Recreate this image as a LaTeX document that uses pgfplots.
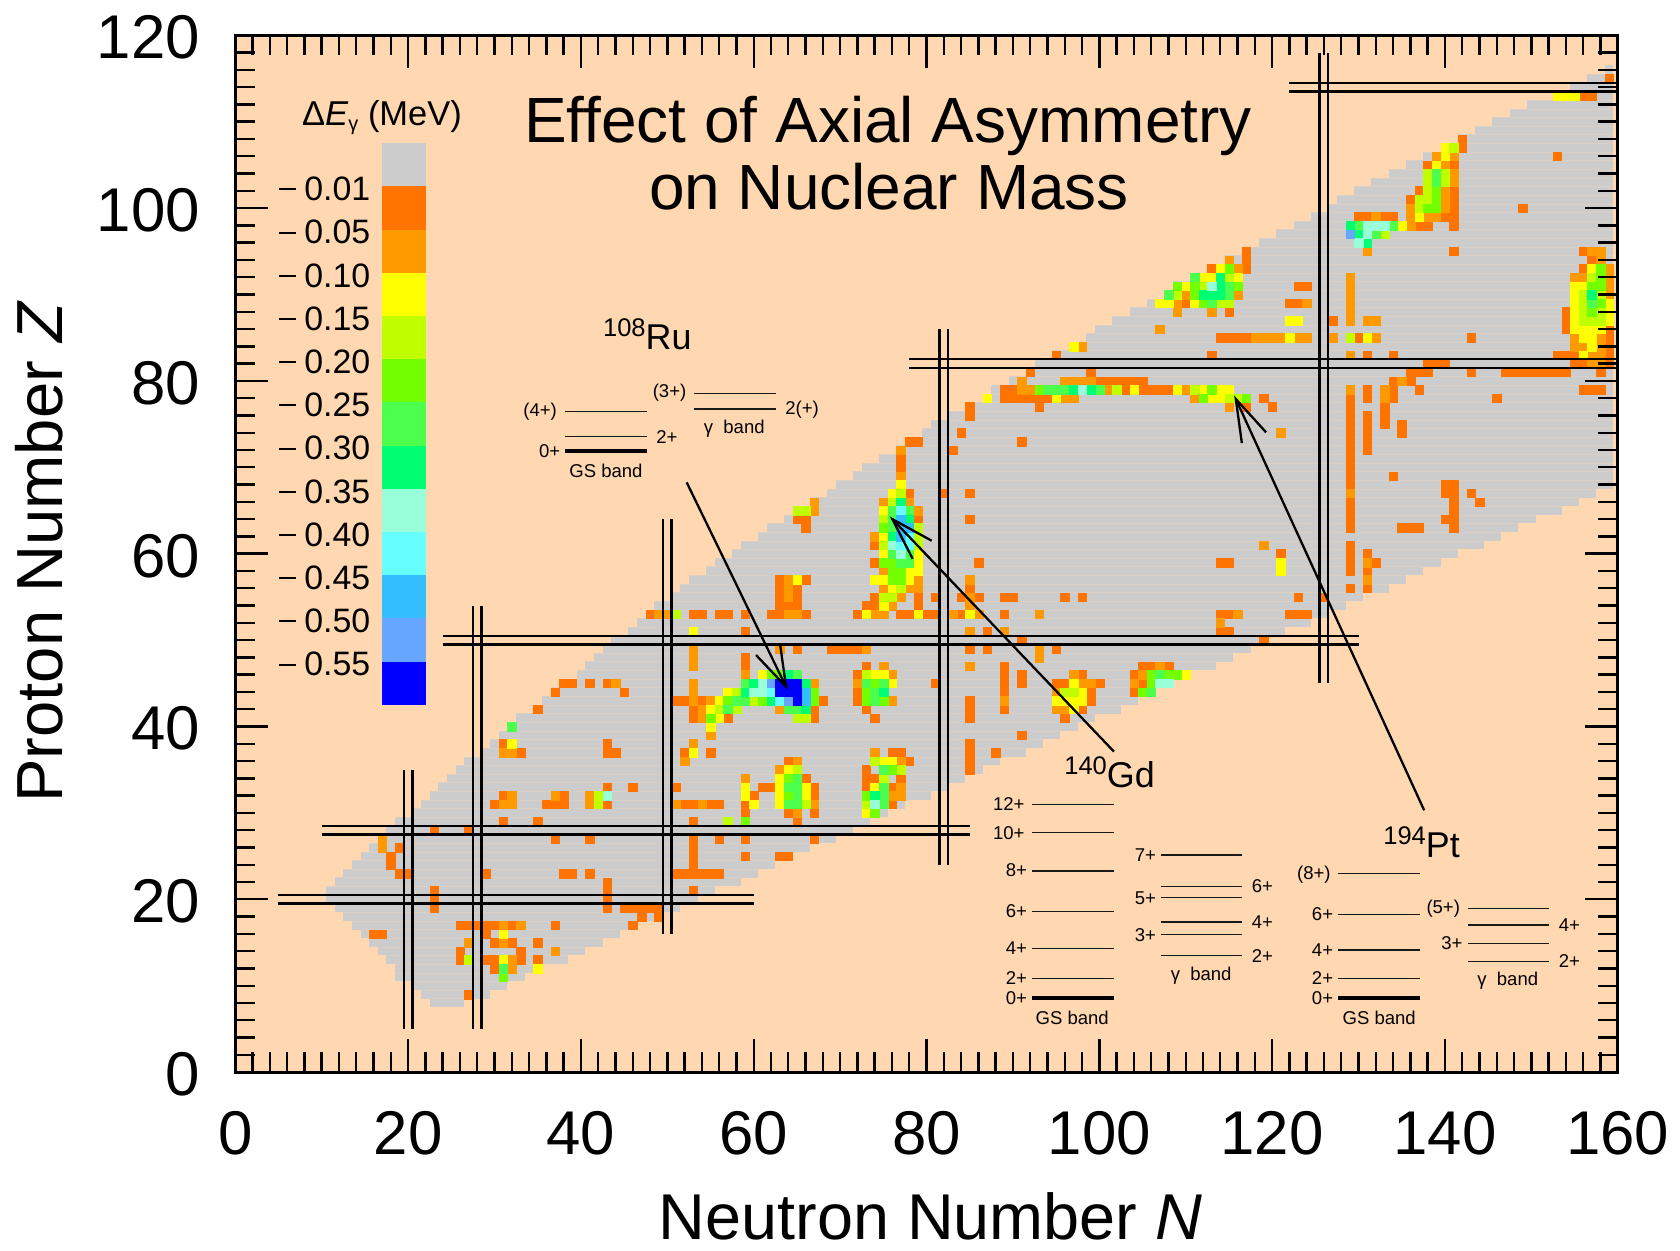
\documentclass[border=0pt]{standalone}
\usepackage{fontspec}
\setmainfont{Liberation Sans}
\usepackage{pgfplots}
\usepackage{pgfplotstable}
\pgfplotsset{compat=1.18}
\definecolor{peach}{HTML}{FFD7B0}
\definecolor{cg}{HTML}{CCCCCC}
\definecolor{ca}{HTML}{FF7300}
\definecolor{cb}{HTML}{FF9900}
\definecolor{cc}{HTML}{FFFF00}
\definecolor{cd}{HTML}{C0FF00}
\definecolor{ce}{HTML}{73FF00}
\definecolor{cf}{HTML}{4DFF4D}
\definecolor{ch}{HTML}{00FF73}
\definecolor{ci}{HTML}{99FFD9}
\definecolor{cj}{HTML}{66FFFF}
\definecolor{ck}{HTML}{33BFFF}
\definecolor{cl}{HTML}{66A6FF}
\definecolor{cm}{HTML}{0000FF}
\pgfplotstableread{
x y
22.5 8
26.5 8
nan nan
21.5 9
29.5 9
nan nan
20.5 10
31.5 10
nan nan
18.5 11
33.5 11
nan nan
18.5 12
35.5 12
nan nan
17.5 13
38.5 13
nan nan
16.5 14
40.5 14
nan nan
15.5 15
42.5 15
nan nan
14.5 16
44.5 16
nan nan
13.5 17
46.5 17
nan nan
12.5 18
49.5 18
nan nan
11.5 19
51.5 19
nan nan
10.5 20
53.5 20
nan nan
10.5 21
55.5 21
nan nan
11.5 22
58.5 22
nan nan
12.5 23
60.5 23
nan nan
13.5 24
62.5 24
nan nan
14.5 25
64.5 25
nan nan
15.5 26
66.5 26
nan nan
16.5 27
69.5 27
nan nan
17.5 28
71.5 28
nan nan
18.5 29
73.5 29
nan nan
20.5 30
75.5 30
nan nan
21.5 31
77.5 31
nan nan
22.5 32
80.5 32
nan nan
23.5 33
82.5 33
nan nan
24.5 34
84.5 34
nan nan
25.5 35
86.5 35
nan nan
26.5 36
88.5 36
nan nan
28.5 37
91.5 37
nan nan
29.5 38
93.5 38
nan nan
30.5 39
95.5 39
nan nan
31.5 40
97.5 40
nan nan
32.5 41
99.5 41
nan nan
34.5 42
102.5 42
nan nan
35.5 43
104.5 43
nan nan
36.5 44
106.5 44
nan nan
37.5 45
108.5 45
nan nan
39.5 46
110.5 46
nan nan
40.5 47
113.5 47
nan nan
41.5 48
115.5 48
nan nan
42.5 49
117.5 49
nan nan
43.5 50
119.5 50
nan nan
45.5 51
121.5 51
nan nan
46.5 52
124.5 52
nan nan
47.5 53
126.5 53
nan nan
48.5 54
128.5 54
nan nan
50.5 55
130.5 55
nan nan
51.5 56
133.5 56
nan nan
52.5 57
135.5 57
nan nan
54.5 58
137.5 58
nan nan
55.5 59
139.5 59
nan nan
57.5 60
141.5 60
nan nan
58.5 61
144.5 61
nan nan
60.5 62
146.5 62
nan nan
61.5 63
148.5 63
nan nan
63.5 64
150.5 64
nan nan
64.5 65
153.5 65
nan nan
66.5 66
155.5 66
nan nan
68.5 67
157.5 67
nan nan
69.5 68
159.5 68
nan nan
71.5 69
159.5 69
nan nan
72.5 70
159.5 70
nan nan
74.5 71
159.5 71
nan nan
76.5 72
159.5 72
nan nan
77.5 73
159.5 73
nan nan
79.5 74
159.5 74
nan nan
80.5 75
159.5 75
nan nan
82.5 76
159.5 76
nan nan
84.5 77
159.5 77
nan nan
86.5 78
159.5 78
nan nan
87.5 79
159.5 79
nan nan
89.5 80
159.5 80
nan nan
91.5 81
159.5 81
nan nan
92.5 82
159.5 82
nan nan
94.5 83
159.5 83
nan nan
96.5 84
159.5 84
nan nan
98.5 85
159.5 85
nan nan
99.5 86
159.5 86
nan nan
101.5 87
159.5 87
nan nan
103.5 88
159.5 88
nan nan
105.5 89
159.5 89
nan nan
107.5 90
159.5 90
nan nan
108.5 91
159.5 91
nan nan
110.5 92
159.5 92
nan nan
112.5 93
159.5 93
nan nan
114.5 94
159.5 94
nan nan
116.5 95
159.5 95
nan nan
118.5 96
159.5 96
nan nan
120.5 97
159.5 97
nan nan
122.5 98
159.5 98
nan nan
124.5 99
159.5 99
nan nan
126.5 100
159.5 100
nan nan
127.5 101
159.5 101
nan nan
129.5 102
159.5 102
nan nan
131.5 103
159.5 103
nan nan
133.5 104
159.5 104
nan nan
135.5 105
159.5 105
nan nan
137.5 106
159.5 106
nan nan
139.5 107
159.5 107
nan nan
141.5 108
159.5 108
nan nan
143.5 109
159.5 109
nan nan
145.5 110
159.5 110
nan nan
147.5 111
159.5 111
nan nan
149.5 112
159.5 112
nan nan
152.5 113
159.5 113
nan nan
154.5 114
159.5 114
nan nan
156.5 115
159.5 115
nan nan
158.5 116
159.5 116
}\grayrows
\newcommand{\cells}[2]{\addplot[only marks,mark=square*,color=#1,mark size=2.13bp,mark options={line width=.06bp}] coordinates {#2};}
\newcommand{\legcell}[3]{\addplot[fill=#1,draw=none] coordinates {(17,#2)(22.07,#2)(22.07,#3)(17,#3)} --cycle;}
\newcommand{\dbl}[1]{\addplot[black,line width=1.2bp] coordinates {#1};}
\newcommand{\lev}[3]{\draw[line width=.75bp,black!90] (#1,#3)--(#2,#3);}
\newcommand{\levt}[3]{\draw[line width=1.6bp,black] (#1,#3)--(#2,#3);}
\newcommand{\Rl}[3]{\node[anchor=east,inner sep=0pt,yshift=-.6bp,font=\fontsize{9.3}{11}\selectfont] at (#1,#2) {#3};}
\newcommand{\Ll}[3]{\node[anchor=west,inner sep=0pt,yshift=-.6bp,font=\fontsize{9.3}{11}\selectfont] at (#1,#2) {#3};}
\newcommand{\Cl}[3]{\node[anchor=center,inner sep=0pt,yshift=-.6bp,font=\fontsize{9.3}{11}\selectfont] at (#1,#2) {#3};}
\newcommand{\iso}[4]{\node[anchor=base west,inner sep=0pt] at (#1,#2) {{\fontsize{12.8}{14}\selectfont\raisebox{6.5bp}{#3}}{\fontsize{18}{20}\selectfont #4}};}
\begin{document}
\begin{tikzpicture}
\useasboundingbox (-117.65bp,-89.45bp) rectangle (722.35bp,536.05bp);
\begin{axis}[at={(0,0)},anchor=south west,x=4.32bp,y=4.32bp,
  xmin=0,xmax=160,ymin=0,ymax=120,
  xtick={0,20,...,160},ytick={0,20,...,120},minor tick num=9,
  tick align=inside,major tick length=16.5bp,minor tick length=10bp,
  tick style={line width=1.2bp,black},
  axis line style={line width=1.4bp,black},
  axis background/.style={fill=peach},
  axis on top,
  clip mode=individual,
  unbounded coords=jump,
  /pgf/number format/assume math mode=true,
  xticklabel style={font=\fontsize{31}{36}\selectfont,inner sep=0pt,yshift=-19.5bp},
  yticklabel style={font=\fontsize{31}{36}\selectfont,inner sep=0pt,xshift=-17.5bp,yshift=-1.1bp},
  xlabel={Neutron Number \textit{N}},
  ylabel={Proton Number \textit{Z}},
  xlabel style={font=\fontsize{32.5}{38}\selectfont,at={(axis description cs:0.503,-0.139)},anchor=center},
  ylabel style={font=\fontsize{32.7}{38}\selectfont,at={(axis description cs:-0.1415,0.5017)},anchor=center},
]
\addplot[color=cg,line width=4.32bp] table[x=x,y=y] {\grayrows};
\addplot[color=peach!25!cg,line width=.2bp,yshift=2.16bp] table[x=x,y=y] {\grayrows};
\cells{ca}{(27,9)(30,12)(26,13)(29,13)(30,13)(33,13)(35,13)(26,14)(33,14)(30,15)(32,15)(35,15)(16,16)(17,16)(29,16)
(26,17)(27,17)(28,17)(29,17)(30,17)(32,17)(37,17)(46,17)(47,18)(49,18)(23,19)(43,19)(45,19)(46,19)(47,19)(48,19)(49,19)
(23,20)(43,20)(23,21)(43,21)(53,21)(43,22)(19,23)(20,23)(29,23)(38,23)(39,23)(41,23)(51,23)(52,23)(53,23)(54,23)(55,23)(56,23)
(18,24)(53,24)(18,25)(53,25)(59,25)(63,25)(64,25)(19,26)(53,26)(37,27)(41,27)(53,27)(56,27)(59,27)(67,27)(23,28)(27,28)
(31,29)(35,29)(53,29)(65,29)(59,30)(64,30)(67,30)(30,31)(36,31)(37,31)(38,31)(43,31)(52,31)(53,31)(55,31)(56,31)(59,31)(76,31)
(31,32)(38,32)(60,32)(67,32)(43,33)(46,33)(51,33)(61,33)(62,33)(67,33)(73,33)(76,33)(66,34)(73,34)(74,34)(77,34)(73,35)(85,35)
(64,36)(78,36)(85,36)(33,37)(43,37)(44,37)(52,37)(55,37)(76,37)(77,37)(85,37)(88,37)(31,38)(43,38)(85,38)(91,39)
(53,41)(57,41)(67,41)(74,41)(85,41)(96,41)(35,42)(53,42)(67,42)(73,42)(85,42)(89,42)(98,42)
(51,43)(52,43)(54,43)(68,43)(72,43)(85,43)(99,43)(37,44)(45,44)(72,44)(89,44)(99,44)(104,44)
(38,45)(39,45)(41,45)(43,45)(81,45)(89,45)(91,45)(95,45)(96,45)(100,45)(105,45)(72,46)(89,46)(91,46)(98,46)(104,46)
(59,47)(73,47)(89,47)(105,47)(106,47)(108,47)(59,48)(65,49)(69,49)(70,49)(71,49)(72,49)(85,49)(87,49)(95,49)(91,50)(119,50)
(59,51)(87,51)(114,51)(115,51)
(48,53)(53,53)(54,53)(56,53)(57,53)(59,53)(62,53)(63,53)(66,53)(72,53)(77,53)(78,53)(80,53)(81,53)(84,53)(89,53)(114,53)(115,53)(122,53)(123,53)(124,53)
(63,54)(64,54)(65,54)(73,54)(74,54)(79,54)
(63,55)(65,55)(74,55)(79,55)(81,55)(84,55)(86,55)(89,55)(90,55)(96,55)(98,55)(123,55)(126,55)
(63,56)(65,56)(85,56)(129,56)(131,56)(63,57)(66,57)(129,58)(131,58)(74,59)(86,59)(114,59)(115,59)(129,59)(132,59)
(121,60)(129,60)(131,60)(74,61)(129,61)(66,63)(129,63)(135,63)(136,63)(137,63)(141,63)
(65,64)(66,64)(79,64)(85,64)(129,64)(140,64)(141,64)(129,65)(141,65)(129,66)(141,66)(144,66)
(78,67)(82,67)(85,67)(140,67)(141,67)(143,67)(129,68)(140,68)(141,68)(129,69)(134,69)(77,70)(129,70)(77,71)(129,71)
(83,72)(129,72)(131,72)(78,73)(79,73)(91,73)(129,73)(131,73)(84,74)(129,74)(131,74)(135,74)(129,75)(131,75)(133,75)(135,75)
(85,76)(129,76)(131,76)(133,76)(85,77)(93,77)(117,77)(120,77)(129,77)(133,77)
(89,78)(90,78)(91,78)(92,78)(93,78)(94,78)(119,78)(129,78)(131,78)(134,78)(146,78)
(89,79)(90,79)(103,79)(105,79)(106,79)(107,79)(108,79)(131,79)(134,79)(137,79)(156,79)(157,79)(158,79)
(100,80)(101,80)(102,80)(103,80)(104,80)(105,80)(134,80)(136,80)
(92,81)(99,81)(136,81)(137,81)(138,81)(143,81)(147,81)(148,81)(149,81)(150,81)(151,81)(152,81)(153,81)(154,81)(158,81)
(138,82)(139,82)(140,82)(155,82)(156,82)(159,82)(95,83)(113,83)(131,83)(134,83)(153,83)(154,83)(155,83)(159,83)(159,84)
(114,85)(115,85)(116,85)(117,85)(130,85)(143,85)(159,85)(154,86)(159,86)(127,87)(154,87)(115,88)(154,88)
(110,89)(122,89)(123,89)(123,91)(124,91)(113,93)(117,93)(156,93)(117,94)(157,94)(117,95)(141,95)(156,95)
(137,98)(138,98)(141,98)(130,99)(131,99)(133,99)(134,99)(140,99)(141,99)(141,100)(149,100)(136,101)(141,101)(137,102)(141,102)
(138,105)(141,105)(153,106)(142,107)(142,108)(156,113)(157,113)(159,115)}
\cells{cb}{(32,12)(32,13)(37,14)(27,15)(31,15)(31,17)(33,17)(17,26)(17,27)(65,30)(31,31)(32,31)(41,31)(51,31)(54,31)(67,31)
(32,32)(37,32)(41,32)(76,32)(77,32)(77,33)(59,34)(63,35)(52,36)(65,36)(77,36)(31,37)(32,37)(74,37)(53,38)(55,39)(54,41)
(54,42)(63,42)(95,42)(96,42)(53,43)(55,43)(76,43)(89,43)(53,44)(95,44)(44,45)(53,45)(67,45)(72,45)(98,45)(99,45)(104,45)
(59,46)(76,46)(97,46)(105,46)(53,47)(75,47)(85,47)(107,47)(53,48)(93,48)(53,49)(63,49)(73,49)(93,49)(85,51)(89,51)(114,52)
(49,53)(50,53)(64,53)(65,53)(74,53)(75,53)(83,53)(86,53)(93,53)(116,53)(76,54)(85,54)(64,55)(77,55)(85,55)
(64,56)(75,56)(78,56)(79,56)(64,57)(79,57)(85,57)(131,57)(75,58)(131,59)(119,61)(74,62)(67,65)(79,65)(67,66)(75,66)(78,66)
(129,67)(77,69)(77,72)(121,74)(115,77)(96,78)(97,78)(111,78)(133,78)(91,79)(92,79)(101,79)(110,79)(129,79)(133,79)
(91,80)(96,80)(97,80)(98,80)(99,80)(135,80)(157,82)(158,82)(129,83)(157,83)(158,83)(98,84)(155,84)(156,84)(158,84)
(118,85)(119,85)(120,85)(121,85)(123,85)(124,85)(127,85)(132,85)(155,85)(158,85)(107,86)(129,87)(131,87)(132,87)
(109,88)(113,88)(129,88)(109,89)(124,89)(129,89)(110,90)(116,90)(129,90)(159,90)(129,91)(159,91)(129,92)(155,92)(156,92)(159,92)
(116,93)(159,93)(115,94)(158,94)(131,95)(157,95)(158,95)(136,98)(132,99)(136,99)(138,99)(139,99)(136,100)(140,100)(140,101)(140,102)
(141,103)(141,104)(140,105)(139,106)(141,106)}
\cells{cc}{(35,12)(31,13)(31,16)(73,30)(60,31)(63,31)(59,32)(63,32)(66,32)(59,33)(63,33)(66,33)(74,33)(63,34)(64,35)(75,36)(76,36)
(53,37)(32,38)(55,40)(56,41)(55,42)(97,42)(56,43)(95,43)(96,43)(97,43)(98,43)(57,44)(98,44)(76,45)(97,45)(61,46)(74,46)(75,46)(110,46)
(53,51)(73,53)(79,53)(85,53)(75,54)(76,56)(65,57)(74,57)(75,57)(78,57)(78,58)(79,58)(121,58)(79,59)(121,59)(75,60)(79,60)(75,62)(75,65)
(76,67)(77,68)(87,78)(95,78)(113,78)(114,78)(104,79)(109,79)(112,79)(114,79)(115,79)(156,83)(97,84)(157,84)
(122,85)(131,85)(156,85)(157,85)(155,86)(156,86)(157,86)(158,86)(122,87)(123,87)(155,87)(159,87)(155,88)(159,88)
(107,89)(108,89)(111,89)(155,89)(159,89)(155,90)(110,91)(155,91)(156,91)(112,92)(113,92)(116,92)(114,93)(157,93)(135,98)(137,99)
(139,105)(140,106)(140,107)(153,113)(154,113)(155,113)}
\cells{cd}{(27,13)(57,29)(42,31)(66,31)(73,31)(42,32)(75,34)(65,35)(77,35)(74,36)(65,41)(66,41)(56,42)(58,42)(60,43)(58,44)(96,44)(97,44)
(73,46)(51,53)(75,55)(76,55)(77,56)(75,61)(79,61)(79,62)(79,63)(75,64)(65,65)(66,65)(76,66)(77,67)(115,78)(116,78)(102,79)(111,79)
(129,85)(156,87)(157,87)(158,87)(156,88)(158,88)(114,89)(115,89)(156,89)(109,90)(156,90)(158,90)(112,91)(115,92)(157,92)(133,97)
(137,100)(137,101)(138,101)(138,102)(138,103)(140,103)(138,104)(140,104)(141,107)}
\cells{ce}{(31,11)(59,29)(74,30)(64,32)(73,32)(64,34)(76,35)(55,41)(57,43)(61,43)(67,43)(73,43)(75,43)(67,44)(73,44)(105,44)(74,45)(106,45)
(62,46)(63,46)(106,46)(108,46)(109,46)(76,57)(77,57)(76,58)(77,58)(75,59)(76,59)(78,59)(75,63)(112,78)(117,78)(93,79)(113,79)
(157,88)(112,89)(158,89)(111,90)(109,91)(111,91)(116,91)(157,91)(158,91)(158,92)(115,93)(158,93)(138,100)(139,100)(139,101)(139,102)}
\cells{cf}{(31,12)(32,40)(64,31)(65,31)(75,31)(65,32)(75,32)(64,33)(65,33)(75,33)(65,34)(75,35)(57,42)(64,42)(65,42)(58,43)(59,43)(74,43)
(74,44)(106,44)(59,45)(73,45)(75,45)(65,46)(107,46)(77,59)(78,59)(76,60)(78,60)(76,63)(76,64)(76,65)(78,65)(94,79)(95,79)(96,79)(100,79)
(113,89)(157,89)(108,90)(115,90)(115,91)(111,92)(132,97)(130,98)(134,98)(139,103)(139,104)}
\cells{ch}{(74,32)(66,42)(62,43)(59,44)(75,44)(60,45)(66,45)(64,46)(76,62)(78,64)(77,66)(97,79)(99,79)(112,90)(113,90)(114,90)(157,90)(114,91)(114,92)(130,97)(129,98)(131,96)}
\cells{ci}{(74,31)(43,32)(60,44)(61,44)(61,45)(107,45)(108,45)(77,60)(76,61)(98,79)(113,91)(130,96)(131,97)(131,98)(132,98)(133,98)}
\cells{cj}{(63,43)(62,44)(77,61)(78,61)(78,62)(77,65)}
\cells{ck}{(66,43)(66,44)(77,62)(77,63)(78,63)(77,64)}
\cells{cl}{(64,43)(62,45)(129,97)}
\cells{cm}{(65,43)(63,44)(64,44)(65,44)(63,45)(64,45)(65,45)}
\legcell{cg}{102.5}{107.5}
\legcell{ca}{97.5}{102.5}
\legcell{cb}{92.5}{97.5}
\legcell{cc}{87.5}{92.5}
\legcell{cd}{82.5}{87.5}
\legcell{ce}{77.5}{82.5}
\legcell{cf}{72.5}{77.5}
\legcell{ch}{67.5}{72.5}
\legcell{ci}{62.5}{67.5}
\legcell{cj}{57.5}{62.5}
\legcell{ck}{52.5}{57.5}
\legcell{cl}{47.5}{52.5}
\legcell{cm}{42.5}{47.5}
\dbl{(5,19.5)(60,19.5)}
\dbl{(5,20.5)(60,20.5)}
\dbl{(10,27.5)(85,27.5)}
\dbl{(10,28.5)(85,28.5)}
\dbl{(24,49.5)(130,49.5)}
\dbl{(24,50.5)(130,50.5)}
\dbl{(78,81.5)(160,81.5)}
\dbl{(78,82.5)(160,82.5)}
\dbl{(122,113.5)(160,113.5)}
\dbl{(122,114.5)(160,114.5)}
\dbl{(19.5,5)(19.5,35)}
\dbl{(20.5,5)(20.5,35)}
\dbl{(27.5,5)(27.5,54)}
\dbl{(28.5,5)(28.5,54)}
\dbl{(49.5,16)(49.5,64)}
\dbl{(50.5,16)(50.5,64)}
\dbl{(81.5,24)(81.5,86)}
\dbl{(82.5,24)(82.5,86)}
\dbl{(125.5,45)(125.5,118)}
\dbl{(126.5,45)(126.5,118)}
\draw[line width=1.15bp] (axis cs:52.24,68.26)--(axis cs:63.74,44.61);
\draw[line width=1.15bp] (axis cs:60.27,48.27)--(axis cs:63.74,44.61)--(axis cs:63.04,49.63);
\draw[line width=1.15bp] (axis cs:101.7,37.09)--(axis cs:76.05,64);
\draw[line width=1.15bp] (axis cs:80.6,61.5)--(axis cs:76.05,64)--(axis cs:78.4,59.4);
\draw[line width=1.15bp] (axis cs:137.6,30.3)--(axis cs:115.8,77.9);
\draw[line width=1.15bp] (axis cs:119.3,74.05)--(axis cs:115.8,77.9)--(axis cs:116.5,72.8);
\end{axis}
\begin{scope}[x=0.5bp,y=-0.5bp,shift={(-117.65bp,536.05bp)}]
\node[font=\fontsize{32.1}{38}\selectfont,align=center,inner sep=0pt] at (888,126) {Effect of Axial Asymmetry};
\node[font=\fontsize{32.1}{38}\selectfont,align=center,inner sep=0pt] at (889,187) {on Nuclear Mass};
\node[font=\fontsize{17.3}{20}\selectfont,inner sep=0pt] at (382,118) {Δ\textit{E}\raisebox{-2.5bp}{\fontsize{10}{12}\selectfont γ} (MeV)};
\foreach \t [count=\i from 0] in {0.01,0.05,0.10,0.15,0.20,0.25,0.30,0.35,0.40,0.45,0.50,0.55}{
  \node[font=\fontsize{17}{20}\selectfont,anchor=west,inner sep=0pt] at (304,189+43.2*\i) {\t};
  \draw[line width=1bp] (279,189.5+43.2*\i)--(296,189.5+43.2*\i);
}
\iso{602.7}{350}{108}{Ru}
\iso{1064}{788}{140}{Gd}
\iso{1383}{858}{194}{Pt}
% 108Ru
\lev{565.3}{646.7}{411.7}\lev{565.3}{646.7}{436.7}\levt{565.3}{646.7}{451}
\lev{694.3}{775.7}{393.7}\lev{694.3}{775.7}{409}
\Rl{557.3}{411}{(4+)}\Ll{656}{436}{2+}\Rl{560.7}{450.3}{0+}\Cl{606}{469.3}{GS band}
\Rl{686.7}{391.7}{(3+)}\Ll{785}{408.3}{2(+)}\Cl{734.3}{427.7}{γ\ \ band}
% 140Gd
\lev{1031.8}{1113.9}{804.3}\lev{1031.8}{1113.9}{832.3}\lev{1031.8}{1113.9}{871}\lev{1031.8}{1113.9}{911.3}\lev{1031.8}{1113.9}{948.3}\lev{1031.8}{1113.9}{978.3}\levt{1031.8}{1113.9}{998}
\Rl{1024.9}{803.3}{12+}\Rl{1024.9}{831.7}{10+}\Rl{1027.3}{869.3}{8+}\Rl{1027.3}{910}{6+}\Rl{1027.3}{947.3}{4+}\Rl{1027.3}{977.3}{2+}\Rl{1027.3}{997}{0+}\Cl{1072.2}{1016.7}{GS band}
\lev{1160.8}{1242}{855}\lev{1160.8}{1242}{886.7}\lev{1160.8}{1242}{897.7}\lev{1160.8}{1242}{922}\lev{1160.8}{1242}{934.7}\lev{1160.8}{1242}{955.7}
\Rl{1156.3}{854}{7+}\Rl{1156.3}{897.3}{5+}\Rl{1156.3}{933.7}{3+}\Ll{1251.4}{885}{6+}\Ll{1251.4}{921}{4+}\Ll{1251.4}{954.7}{2+}\Cl{1201.2}{975}{γ\ \ band}
% 194Pt
\lev{1338.4}{1420.4}{873.7}\lev{1338.4}{1420.4}{914.3}\lev{1338.4}{1420.4}{950}\lev{1338.4}{1420.4}{978.3}\levt{1338.4}{1420.4}{998}
\Rl{1331}{873.3}{(8+)}\Rl{1333.5}{913.3}{6+}\Rl{1333.5}{949}{4+}\Rl{1333.5}{977.3}{2+}\Rl{1333.5}{997}{0+}\Cl{1379.2}{1016.7}{GS band}
\lev{1467.8}{1549}{908.7}\lev{1467.8}{1549}{925}\lev{1467.8}{1549}{943.3}\lev{1467.8}{1549}{961.3}
\Rl{1460.4}{908}{(5+)}\Rl{1462.9}{942}{3+}\Ll{1558.4}{924}{4+}\Ll{1558.4}{960}{2+}\Cl{1507.8}{980}{γ\ \ band}
\end{scope}
\end{tikzpicture}
\end{document}
